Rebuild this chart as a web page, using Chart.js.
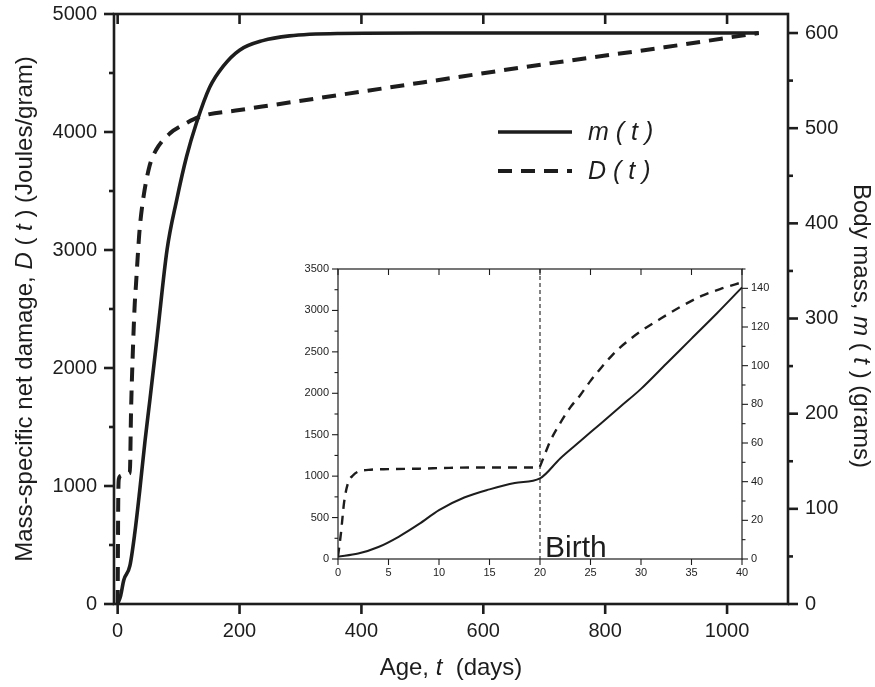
<!DOCTYPE html>
<html>
<head>
<meta charset="utf-8">
<script src="https://cdn.jsdelivr.net/npm/chart.js@4.4.0/dist/chart.umd.min.js"></script>
<style>
  html, body { margin: 0; background: #fff; }
  #wrap { position: relative; width: 875px; height: 687px; }
  #wrap canvas { position: absolute; left: 0; top: 0; }
</style>
</head>
<body>
<div id="wrap">
  <canvas id="main" width="875" height="687"></canvas>
  <canvas id="inset" width="875" height="687"></canvas>
</div>
<script>
// main panel: body mass m(t) in grams (right axis)
const massAge = [0, 5, 10, 20, 28, 36, 45, 53, 65, 81, 97, 113, 129, 151, 173, 200, 238, 282, 364, 500, 700, 900, 1052];
const bodyMass = [0, 9, 25, 40, 74, 118, 172, 215, 282, 372, 425, 470, 505, 543, 565, 582, 592, 597, 599.5, 600, 600, 600, 600];

// main panel: damage D(t) in Joules/gram (left axis)
const damageAge = [0, 1, 2, 5, 10, 20, 22, 25, 28, 30, 33, 36, 41, 52, 63, 86, 107, 135, 200, 255, 364, 500, 700, 900, 1052];
const damage = [0, 900, 1060, 1085, 1100, 1110, 1640, 2150, 2540, 2700, 2950, 3170, 3400, 3706, 3847, 3989, 4059, 4130, 4186, 4229, 4314, 4420, 4575, 4720, 4839];

// inset: first 40 days
const insetMassAge = [0, 2, 4, 6, 8, 10, 12.5, 15, 17.5, 20, 22, 24, 26, 28, 30, 32.5, 35, 37.5, 40];
const insetMass = [1.2, 2.8, 6.2, 11.5, 18, 25.3, 31.8, 36, 39.3, 41.7, 52, 61, 70, 79, 88, 101, 114, 127, 140.5];
const insetDamageAge = [0, 0.3, 0.6, 1, 1.5, 2, 3, 5, 8, 11, 15, 19.9, 20.2, 21, 22, 23, 24, 25, 26, 27, 28, 29, 30, 32, 34, 36, 38, 40];
const insetDamage = [30, 320, 680, 920, 1010, 1055, 1075, 1085, 1090, 1100, 1105, 1105, 1180, 1420, 1640, 1830, 1980, 2150, 2300, 2440, 2560, 2660, 2750, 2905, 3050, 3175, 3265, 3340];
const birthDay = 20;

// tick labels
const xTicks = [0, 200, 400, 600, 800, 1000];
const leftTicks = [0, 1000, 2000, 3000, 4000, 5000];
const leftMinor = [500, 1500, 2500, 3500, 4500];
const rightTicks = [0, 100, 200, 300, 400, 500, 600];
const rightMinor = [50, 150, 250, 350, 450, 550];
const insetXTicks = [0, 5, 10, 15, 20, 25, 30, 35, 40];
const insetLeftTicks = [0, 500, 1000, 1500, 2000, 2500, 3000, 3500];
const insetLeftMinor = [250, 750, 1250, 1750, 2250, 2750, 3250];
const insetRightTicks = [0, 20, 40, 60, 80, 100, 120, 140];
const insetRightMinor = [10, 30, 50, 70, 90, 110, 130, 150];

const FONT = "'Liberation Sans', Arial, Helvetica, sans-serif";
const INK = '#1d1d1d';

const pts = (xs, ys) => xs.map((x, i) => ({ x: x, y: ys[i] }));

function seg(ctx, x1, y1, x2, y2) {
    ctx.beginPath();
    ctx.moveTo(x1, y1);
    ctx.lineTo(x2, y2);
    ctx.stroke();
}

// text made of plain and italic pieces, centred on (x, y)
function richText(ctx, parts, x, y, size) {
    const widths = parts.map(([t, it]) => {
        ctx.font = (it ? 'italic ' : '') + size + 'px ' + FONT;
        return ctx.measureText(t).width;
    });
    let cx = x - widths.reduce((a, b) => a + b, 0) / 2;
    ctx.textAlign = 'left';
    ctx.textBaseline = 'middle';
    parts.forEach(([t, it], i) => {
        ctx.font = (it ? 'italic ' : '') + size + 'px ' + FONT;
        ctx.fillText(t, cx, y);
        cx += widths[i];
    });
}

// frame, ticks and tick labels drawn from the chart's own scales
function drawAxes(chart, o) {
    const { ctx, chartArea: a, scales } = chart;
    ctx.save();
    ctx.strokeStyle = INK;
    ctx.fillStyle = INK;
    ctx.lineWidth = o.frameWidth;
    ctx.strokeRect(a.left, a.top, a.right - a.left, a.bottom - a.top);
    ctx.lineWidth = o.tickWidth;
    ctx.font = o.fontSize + 'px ' + FONT;

    ctx.textAlign = 'center';
    ctx.textBaseline = 'middle';
    o.xTicks.forEach((v) => {
        const x = scales.x.getPixelForValue(v);
        seg(ctx, x, a.bottom, x, a.bottom + o.major);
        seg(ctx, x, a.top, x, a.top + o.topLen);
        ctx.fillText(String(v), x, a.bottom + o.xLabelGap);
    });

    ctx.textAlign = 'right';
    o.leftTicks.forEach((v) => {
        const y = scales.y.getPixelForValue(v);
        seg(ctx, a.left, y, a.left - o.major, y);
        ctx.fillText(String(v), a.left - o.yLabelGap, y);
    });
    o.leftMinor.forEach((v) => {
        const y = scales.y.getPixelForValue(v);
        seg(ctx, a.left, y, a.left - o.minor, y);
    });

    ctx.textAlign = 'left';
    o.rightTicks.forEach((v) => {
        const y = scales.y2.getPixelForValue(v);
        seg(ctx, a.right, y, a.right + o.major, y);
        ctx.fillText(String(v), a.right + o.yLabelGap, y);
    });
    o.rightMinor.forEach((v) => {
        const y = scales.y2.getPixelForValue(v);
        seg(ctx, a.right, y, a.right + o.minor, y);
    });
    ctx.restore();
}

const hiddenScales = (xmin, xmax, ymax, y2max) => ({
    x: { type: 'linear', min: xmin, max: xmax, display: false },
    y: { type: 'linear', min: 0, max: ymax, display: false },
    y2: { type: 'linear', min: 0, max: y2max, display: false },
});

const mainDecor = {
    id: 'mainDecor',
    afterDraw(chart) {
        const { ctx, chartArea: a } = chart;
        drawAxes(chart, {
            frameWidth: 2.6, tickWidth: 2.6, major: 10, minor: 5, topLen: 10,
            fontSize: 20, xLabelGap: 27, yLabelGap: 17,
            xTicks: xTicks, leftTicks: leftTicks, leftMinor: leftMinor,
            rightTicks: rightTicks, rightMinor: rightMinor,
        });
        ctx.save();
        ctx.fillStyle = INK;
        // axis titles
        richText(ctx, [['Age, ', false], ['t', true], ['  (days)', false]], (a.left + a.right) / 2, 668, 24);
        ctx.save();
        ctx.translate(25, (a.top + a.bottom) / 2);
        ctx.rotate(-Math.PI / 2);
        richText(ctx, [['Mass-specific net damage, ', false], ['D', true], [' (', false], [' t', true], [' ) (Joules/gram)', false]], 0, 0, 24);
        ctx.restore();
        ctx.save();
        ctx.translate(861, 326);
        ctx.rotate(Math.PI / 2);
        richText(ctx, [['Body mass, ', false], ['m', true], [' (', false], [' t', true], [' ) (grams)', false]], 0, 0, 24);
        ctx.restore();

        // legend
        const ds = chart.data.datasets;
        [[ds[0], 132, 'm'], [ds[1], 171, 'D']].forEach(([d, y, sym]) => {
            ctx.save();
            ctx.strokeStyle = d.borderColor;
            ctx.lineWidth = d.borderWidth;
            ctx.setLineDash(d.borderDash || []);
            seg(ctx, 498, y, 572, y);
            ctx.restore();
            ctx.font = 'italic 25px ' + FONT;
            ctx.textAlign = 'left';
            ctx.textBaseline = 'middle';
            ctx.fillText(sym + ' ( t )', 588, y + 1);
        });
        ctx.restore();
    },
};

new Chart(document.getElementById('main'), {
    type: 'line',
    data: {
        datasets: [
            {
                label: 'm(t)',
                data: pts(massAge, bodyMass),
                yAxisID: 'y2',
                borderColor: INK,
                borderWidth: 3.6,
                pointRadius: 0,
                cubicInterpolationMode: 'monotone',
            },
            {
                label: 'D(t)',
                data: pts(damageAge, damage),
                yAxisID: 'y',
                borderColor: INK,
                borderWidth: 4,
                borderDash: [14, 9],
                pointRadius: 0,
                cubicInterpolationMode: 'monotone',
            },
        ],
    },
    options: {
        responsive: false,
        animation: false,
        devicePixelRatio: 1,
        layout: { padding: { left: 114, right: 87, top: 14, bottom: 83 } },
        scales: hiddenScales(-6, 1100, 5000, 620),
        plugins: { legend: { display: false }, tooltip: { enabled: false } },
    },
    plugins: [mainDecor],
});

const insetDecor = {
    id: 'insetDecor',
    beforeDraw(chart) {
        const { ctx, chartArea: a } = chart;
        ctx.save();
        ctx.fillStyle = '#fff';
        ctx.fillRect(a.left, a.top, a.right - a.left, a.bottom - a.top);
        ctx.restore();
    },
    afterDraw(chart) {
        const { ctx, chartArea: a, scales } = chart;
        drawAxes(chart, {
            frameWidth: 1.2, tickWidth: 1.1, major: 6, minor: 3.5, topLen: 6,
            fontSize: 11, xLabelGap: 14, yLabelGap: 9,
            xTicks: insetXTicks, leftTicks: insetLeftTicks, leftMinor: insetLeftMinor,
            rightTicks: insetRightTicks, rightMinor: insetRightMinor,
        });
        const bx = scales.x.getPixelForValue(birthDay);
        ctx.save();
        ctx.strokeStyle = INK;
        ctx.lineWidth = 1.1;
        ctx.setLineDash([4, 3]);
        seg(ctx, bx, a.top, bx, a.bottom);
        ctx.restore();
        ctx.save();
        ctx.fillStyle = INK;
        ctx.font = '30px ' + FONT;
        ctx.textAlign = 'left';
        ctx.textBaseline = 'alphabetic';
        ctx.fillText('Birth', bx + 5, a.bottom - 2);
        ctx.restore();
    },
};

new Chart(document.getElementById('inset'), {
    type: 'line',
    data: {
        datasets: [
            {
                label: 'm(t)',
                data: pts(insetMassAge, insetMass),
                yAxisID: 'y2',
                borderColor: INK,
                borderWidth: 2,
                pointRadius: 0,
                cubicInterpolationMode: 'monotone',
            },
            {
                label: 'D(t)',
                data: pts(insetDamageAge, insetDamage),
                yAxisID: 'y',
                borderColor: INK,
                borderWidth: 2.4,
                borderDash: [9, 7],
                pointRadius: 0,
                cubicInterpolationMode: 'monotone',
            },
        ],
    },
    options: {
        responsive: false,
        animation: false,
        devicePixelRatio: 1,
        layout: { padding: { left: 338, right: 133, top: 269, bottom: 128 } },
        scales: hiddenScales(0, 40, 3500, 150),
        plugins: { legend: { display: false }, tooltip: { enabled: false } },
    },
    plugins: [insetDecor],
});
</script>
</body>
</html>
